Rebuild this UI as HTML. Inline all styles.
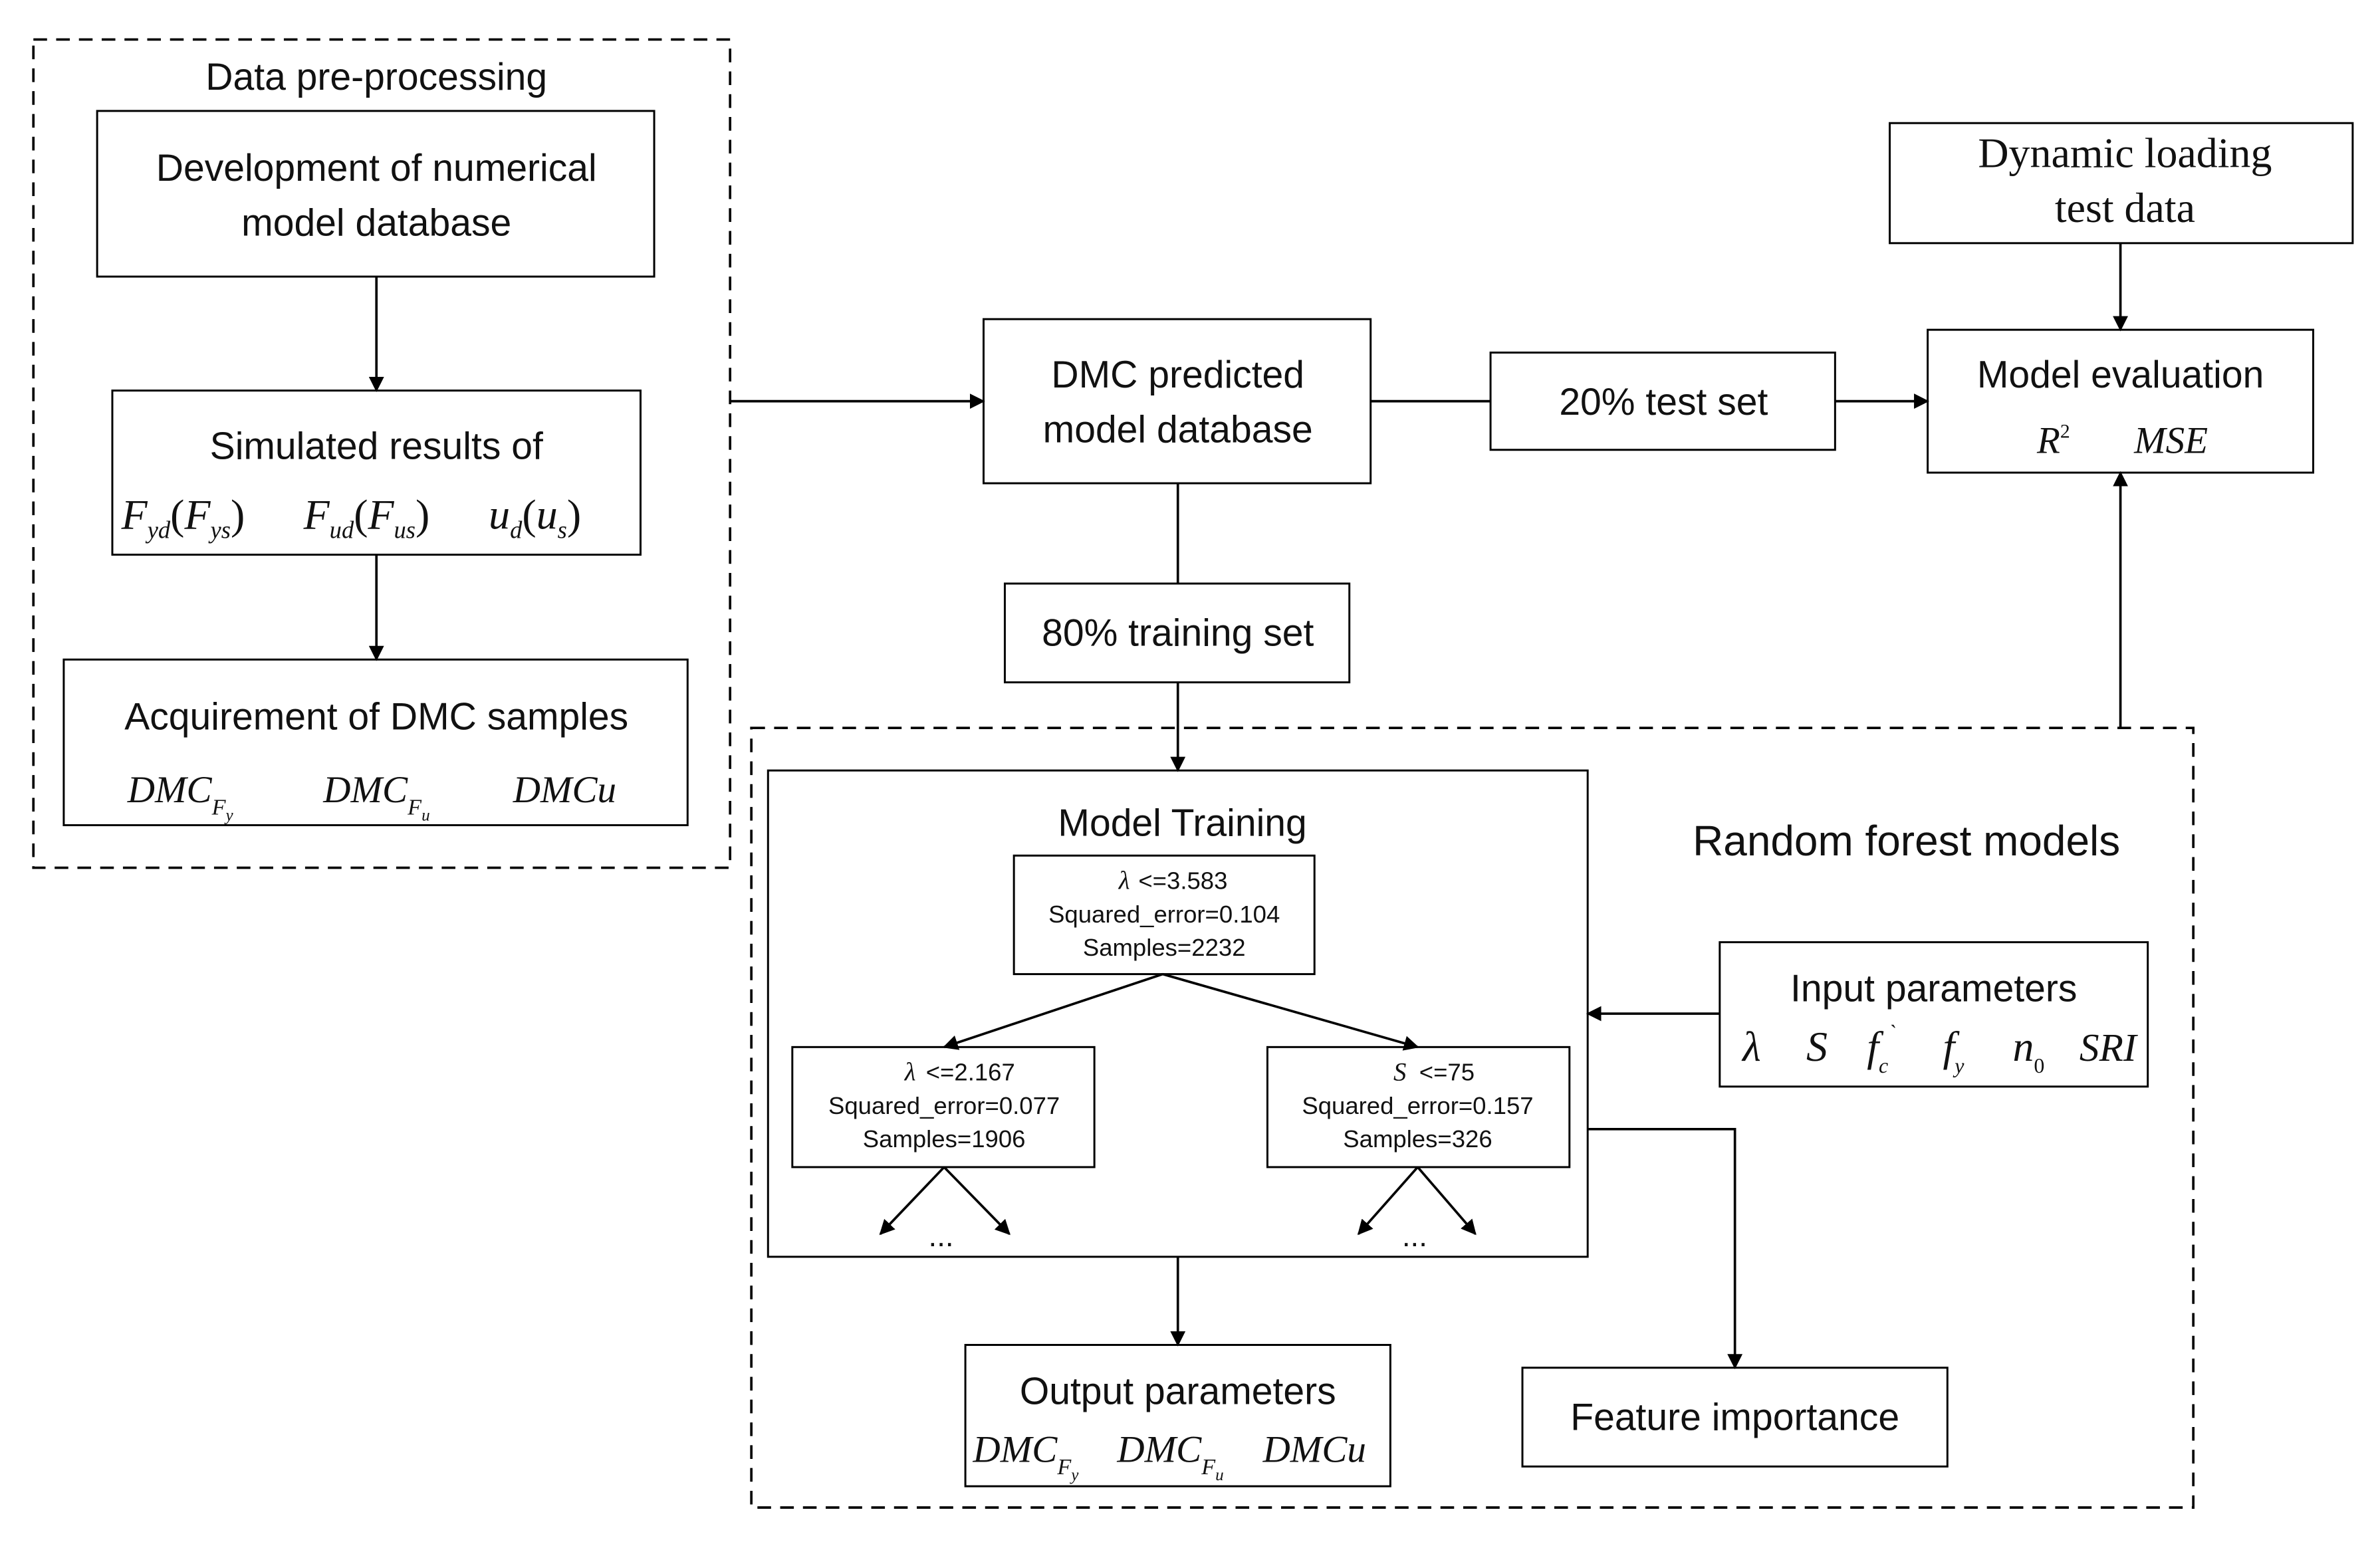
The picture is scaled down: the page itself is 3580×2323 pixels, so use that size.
<!DOCTYPE html>
<html><head><meta charset="utf-8"><style>
html,body{margin:0;padding:0;background:#fff;}
svg{display:block;}
.s{font-family:"Liberation Sans",sans-serif;fill:#111;}
.m{font-family:"Liberation Serif",serif;font-style:italic;fill:#111;}
</style></head><body>
<svg width="3580" height="2323" viewBox="0 0 1568 1016" preserveAspectRatio="none" xmlns="http://www.w3.org/2000/svg">
<defs><marker id="a" markerWidth="10" markerHeight="10" refX="9" refY="5" orient="auto" markerUnits="userSpaceOnUse"><path d="M0,0 L10,5 L0,10 z" fill="#000"/></marker></defs>
<g fill="none" stroke="#000" stroke-width="1.3">
<rect x="22" y="26" width="459" height="545" stroke-dasharray="9,6" stroke-width="1.6"/>
<rect x="495" y="479" width="950" height="513" stroke-dasharray="9,6" stroke-width="1.6"/>
<rect x="64" y="73" width="367" height="109"/>
<rect x="74" y="257" width="348" height="108"/>
<rect x="42" y="434" width="411" height="109"/>
<rect x="648" y="210" width="255" height="108"/>
<rect x="982" y="232" width="227" height="64"/>
<rect x="1270" y="217" width="254" height="94"/>
<rect x="1245" y="81" width="305" height="79"/>
<rect x="662" y="384" width="227" height="65"/>
<rect x="506" y="507" width="540" height="320"/>
<rect x="668" y="563" width="198" height="78"/>
<rect x="522" y="689" width="199" height="79"/>
<rect x="835" y="689" width="199" height="79"/>
<rect x="1133" y="620" width="282" height="95"/>
<rect x="1003" y="900" width="280" height="65"/>
<rect x="636" y="885" width="280" height="93"/>
</g>
<g stroke="#000" stroke-width="1.6" fill="none" marker-end="url(#a)">
<line x1="248" y1="182" x2="248" y2="257"/>
<line x1="248" y1="365" x2="248" y2="434"/>
<line x1="481" y1="264" x2="648" y2="264"/>
<line x1="1209" y1="264" x2="1270" y2="264"/>
<line x1="1397" y1="160" x2="1397" y2="217"/>
<line x1="776" y1="449" x2="776" y2="507"/>
<line x1="1397" y1="479" x2="1397" y2="311"/>
<line x1="766" y1="641" x2="622" y2="689"/>
<line x1="766" y1="641" x2="934" y2="689"/>
<line x1="622" y1="768" x2="580" y2="812"/>
<line x1="622" y1="768" x2="665" y2="812"/>
<line x1="934" y1="768" x2="895" y2="812"/>
<line x1="934" y1="768" x2="972" y2="812"/>
<line x1="1133" y1="667" x2="1046" y2="667"/>
<polyline points="1046,743 1143,743 1143,900"/>
<line x1="776" y1="827" x2="776" y2="885"/>
</g>
<g stroke="#000" stroke-width="1.6">
<line x1="903" y1="264" x2="982" y2="264"/>
<line x1="776" y1="318" x2="776" y2="384"/>
</g>
<g class="s" text-anchor="middle" font-size="25">
<text x="248" y="59">Data pre-processing</text>
<text x="248" y="119">Development of numerical</text>
<text x="248" y="155">model database</text>
<text x="248" y="302">Simulated results of</text>
<text x="248" y="480">Acquirement of DMC samples</text>
<text x="776" y="255">DMC predicted</text>
<text x="776" y="291">model database</text>
<text x="1096" y="273">20% test set</text>
<text x="1397" y="255">Model evaluation</text>
<text x="776" y="425">80% training set</text>
<text x="779" y="550">Model Training</text>
<text x="1256" y="563" font-size="28">Random forest models</text>
<text x="1274" y="659">Input parameters</text>
<text x="1143" y="941">Feature importance</text>
<text x="776" y="924">Output parameters</text>
</g>
<g class="s" text-anchor="middle" font-size="16">
<text x="767" y="607">Squared_error=0.104</text>
<text x="767" y="629">Samples=2232</text>
<text x="622" y="733">Squared_error=0.077</text>
<text x="622" y="755">Samples=1906</text>
<text x="934" y="733">Squared_error=0.157</text>
<text x="934" y="755">Samples=326</text>
<text x="620" y="820" font-size="20">...</text>
<text x="932" y="820" font-size="20">...</text>
</g>
<g class="s" font-size="16">
<text x="750" y="585">&lt;=3.583</text>
<text x="610" y="711">&lt;=2.167</text>
<text x="935" y="711">&lt;=75</text>
</g>
<g class="m" font-size="17">
<text x="737" y="585">λ</text>
<text x="596" y="711">λ</text>
<text x="918" y="711">S</text>
</g>
<text x="1400" y="110" text-anchor="middle" font-family="Liberation Serif,serif" font-size="28" fill="#111">Dynamic loading</text>
<text x="1400" y="146" text-anchor="middle" font-family="Liberation Serif,serif" font-size="28" fill="#111">test data</text>
<g class="m" font-size="28">
<text x="80" y="348">F<tspan font-size="16" dy="6">yd</tspan><tspan dy="-6" font-style="normal">(</tspan>F<tspan font-size="16" dy="6">ys</tspan><tspan dy="-6" font-style="normal">)</tspan></text>
<text x="200" y="348">F<tspan font-size="16" dy="6">ud</tspan><tspan dy="-6" font-style="normal">(</tspan>F<tspan font-size="16" dy="6">us</tspan><tspan dy="-6" font-style="normal">)</tspan></text>
<text x="322" y="348">u<tspan font-size="16" dy="6">d</tspan><tspan dy="-6" font-style="normal">(</tspan>u<tspan font-size="16" dy="6">s</tspan><tspan dy="-6" font-style="normal">)</tspan></text>
<text x="84" y="528" font-size="25">DMC<tspan font-size="15" dy="8">F</tspan><tspan font-size="11" dy="4">y</tspan></text>
<text x="213" y="528" font-size="25">DMC<tspan font-size="15" dy="8">F</tspan><tspan font-size="11" dy="4">u</tspan></text>
<text x="338" y="528" font-size="25">DMC<tspan font-size="25">u</tspan></text>
<text x="641" y="962" font-size="25">DMC<tspan font-size="15" dy="8">F</tspan><tspan font-size="11" dy="4">y</tspan></text>
<text x="736" y="962" font-size="25">DMC<tspan font-size="15" dy="8">F</tspan><tspan font-size="11" dy="4">u</tspan></text>
<text x="832" y="962" font-size="25">DMC<tspan font-size="25">u</tspan></text>
<text x="1342" y="298" font-size="25">R<tspan font-size="13" dy="-10" font-style="normal">2</tspan></text>
<text x="1406" y="298" font-size="25">MSE</text>
<text x="1148" y="698">λ</text>
<text x="1190" y="698">S</text>
<text x="1230" y="698">f<tspan font-size="14" dy="8">c</tspan><tspan font-size="14" dy="-22">`</tspan></text>
<text x="1280" y="698">f<tspan font-size="14" dy="8">y</tspan></text>
<text x="1326" y="698">n<tspan font-size="14" dy="8" font-style="normal">0</tspan></text>
<text x="1370" y="698" font-size="26">SRI</text>
</g>
</svg>
</body></html>
